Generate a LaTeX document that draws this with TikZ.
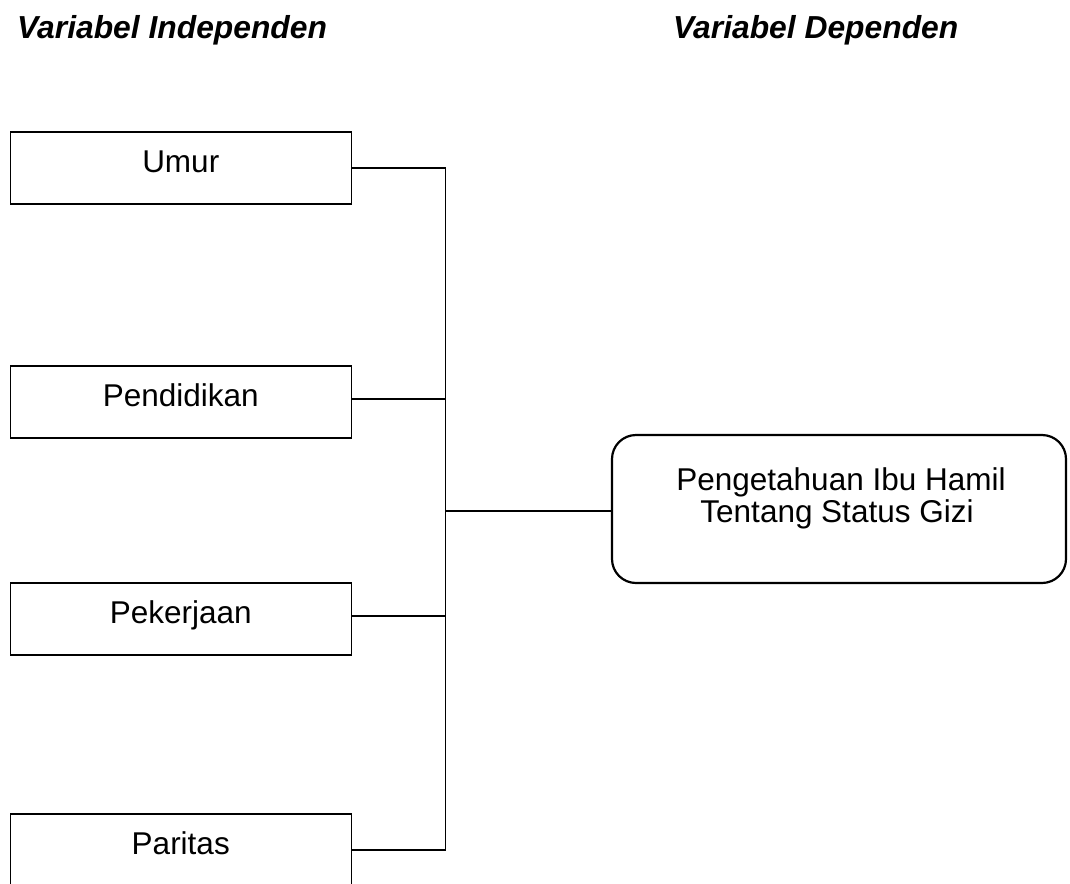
\documentclass[tikz,border=0pt]{standalone}
\usepackage{fontspec}
\setmainfont{Liberation Sans}
\begin{document}
\begin{tikzpicture}[x=1pt,y=-1pt,
  varbox/.style={draw=black,line width=1.5pt,inner sep=0pt,minimum width=341pt,
    text height=40.5pt,text depth=31.5pt,anchor=north west,
    font=\fontsize{31.5}{32}\selectfont},
  depbox/.style={draw=black,line width=2.2pt,rounded corners=24pt,inner sep=0pt,
    minimum width=454pt,minimum height=148pt},
  txt/.style={inner sep=0pt,anchor=base,font=\fontsize{31.5}{32}\selectfont},
  head/.style={inner sep=0pt,anchor=base west,font=\fontsize{31.8}{32}\selectfont\bfseries\itshape},
  conn/.style={draw=black,line width=1.6pt}]
\useasboundingbox (0,0) rectangle (1070,883);
\fill[white] (0,0) rectangle (1070,883);
\node[head] (h1) at (17,38) {Variabel Independen};
\node[head] (h2) at (673,38) {Variabel Dependen};
\node[varbox] (umur) at (9.5,131) {Umur};
\node[varbox] (pend) at (9.5,365) {Pendidikan};
\node[varbox] (pek) at (9.5,582) {Pekerjaan};
\node[varbox] (par) at (9.5,813) {Paritas};
\node[depbox] (dep) at (839,509) {};
\node[txt] (dep1) at (841,490) {Pengetahuan Ibu Hamil};
\node[txt] (dep2) at (837,522) {Tentang Status Gizi};
\coordinate (top) at (445.5,168);
\coordinate (bot) at (445.5,850);
\coordinate (c2) at (445.5,399);
\coordinate (c3) at (445.5,616);
\coordinate (mid) at (445.5,511);
\draw[conn] (umur.east |- top) -- (top) -- (bot) -- (par.east |- bot);
\draw[conn] (pend.east |- c2) -- (c2);
\draw[conn] (pek.east |- c3) -- (c3);
\draw[conn] (mid) -- (dep.west |- mid);
\end{tikzpicture}
\end{document}
